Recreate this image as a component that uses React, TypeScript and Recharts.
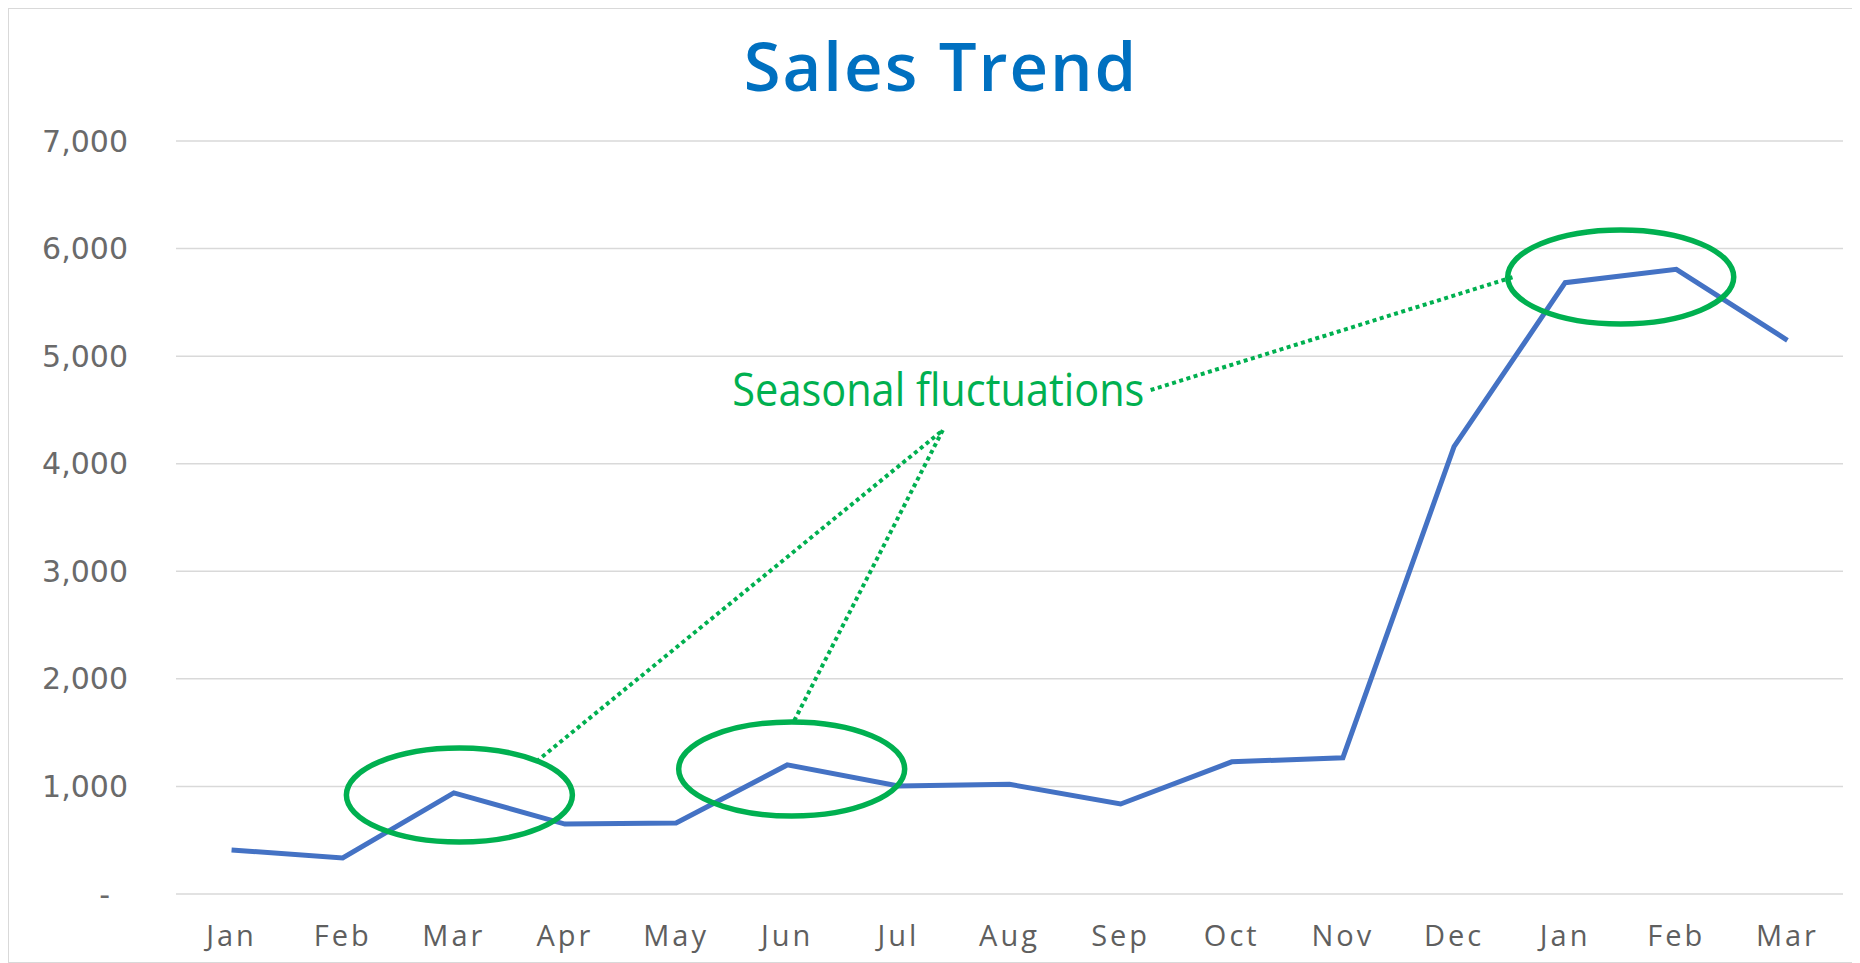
import React from 'react';
import { LineChart, Line, CartesianGrid, XAxis, YAxis, ReferenceDot, ReferenceLine } from 'recharts';

const months = ['Jan', 'Feb', 'Mar', 'Apr', 'May', 'Jun', 'Jul', 'Aug', 'Sep', 'Oct', 'Nov', 'Dec', 'Jan', 'Feb', 'Mar'];
const sales = [410, 335, 940, 650, 660, 1200, 1005, 1020, 837, 1229, 1267, 4158, 5683, 5807, 5147];
const yTicks = [0, 1000, 2000, 3000, 4000, 5000, 6000, 7000];
const xTicks = months.map((_, i) => i);

// circled spots and the callout, in data units (month index, sales)
const circles = [
  { x: 2.05, y: 920 },
  { x: 5.04, y: 1162 },
  { x: 12.5, y: 5736 },
];
const calloutText = 'Seasonal fluctuations';
const callout = { x: 6.36, y: 4537 };
const pointers = [
  [{ x: 8.27, y: 4685 }, { x: 11.535, y: 5736 }],
  [{ x: 6.38, y: 4295 }, { x: 2.76, y: 1246 }],
  [{ x: 6.4, y: 4313 }, { x: 5.057, y: 1599 }],
];

const data = sales.map((v, i) => ({ idx: i, sales: v }));

const GREEN = '#00B050';
const GRAY = '#5f5f5f';

const YTick = (props: any) => {
  const { x, y, payload } = props;
  const v = payload.value;
  return (
    <text
      x={v === 0 ? x - 18 : x}
      y={y}
      textAnchor="end"
      dominantBaseline="central"
      fill="#6a6a6a"
      fontSize={30}
      fontFamily="DejaVu Sans"
    >
      {v === 0 ? '-' : v.toLocaleString('en-US')}
    </text>
  );
};

const Ellipse = (props: any) => (
  <ellipse cx={props.cx} cy={props.cy} rx={113} ry={47} fill="none" stroke={GREEN} strokeWidth={5.5} />
);

const Callout = (props: any) => (
  <text
    x={props.cx}
    y={props.cy}
    textAnchor="middle"
    fill={GREEN}
    fontSize={45}
    fontFamily="Open Sans"
    textLength={412}
    lengthAdjust="spacingAndGlyphs"
  >
    {calloutText}
  </text>
);

export default function App() {
  return (
    <div style={{ position: 'relative', width: 1852, height: 955, background: '#fff' }}>
      <LineChart width={1852} height={955} data={data} margin={{ top: 133, right: 17, bottom: 0, left: 0 }}>
        <CartesianGrid vertical={false} stroke="#d9d9d9" strokeWidth={1.5} />
        <XAxis
          dataKey="idx"
          type="number"
          domain={[-0.5, 14.5]}
          ticks={xTicks}
          interval={0}
          tickFormatter={(i: number) => months[i]}
          axisLine={false}
          tickLine={false}
          tickSize={0}
          tickMargin={31}
          height={69}
          tick={{ fill: GRAY, fontSize: 29, fontFamily: 'Open Sans', letterSpacing: 3 }}
        />
        <YAxis
          domain={[0, 7000]}
          ticks={yTicks}
          interval={0}
          axisLine={false}
          tickLine={false}
          tickSize={0}
          tickMargin={48}
          width={168}
          tick={<YTick />}
        />
        <Line
          type="linear"
          dataKey="sales"
          stroke="#4472C4"
          strokeWidth={5}
          dot={false}
          isAnimationActive={false}
        />
        {pointers.map((seg, i) => (
          <ReferenceLine
            key={'p' + i}
            segment={seg}
            stroke={GREEN}
            strokeWidth={4}
            strokeDasharray="4 3.5"
          />
        ))}
        {circles.map((c, i) => (
          <ReferenceDot key={'c' + i} x={c.x} y={c.y} r={0} shape={<Ellipse />} />
        ))}
        <ReferenceDot x={callout.x} y={callout.y} r={0} shape={<Callout />} />
      </LineChart>
      <div
        style={{
          position: 'absolute',
          top: 23.5,
          left: 933,
          transform: 'translateX(-50%)',
          whiteSpace: 'nowrap',
          fontFamily: 'Open Sans',
          fontWeight: 600,
          fontSize: 67,
          lineHeight: '67px',
          letterSpacing: 2,
          color: '#0070C0',
        }}
      >
        Sales Trend
      </div>
      <div
        style={{
          position: 'absolute',
          inset: 0,
          border: '1px solid #d9d9d9',
          pointerEvents: 'none',
        }}
      />
    </div>
  );
}
